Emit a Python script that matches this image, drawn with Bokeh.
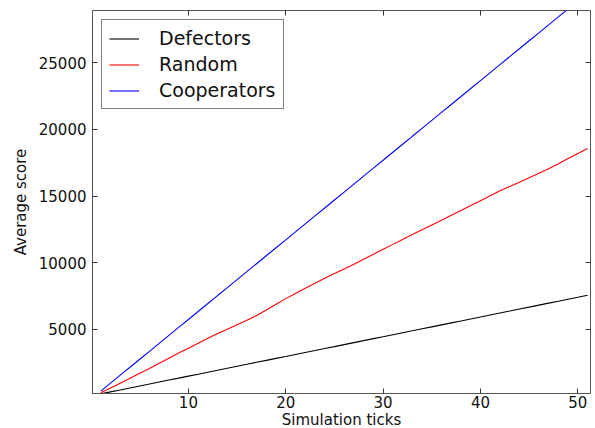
from bokeh.plotting import figure
from bokeh.models import LinearAxis, FixedTicker, Range1d, Legend, LegendItem
from bokeh.embed import file_html
from bokeh.resources import INLINE

ticks = list(range(1, 52))
defectors = [150, 300, 445, 595, 745, 890, 1040, 1190, 1335, 1485,
             1630, 1780, 1925, 2075, 2225, 2370, 2520, 2665, 2815, 2960,
             3110, 3260, 3405, 3555, 3700, 3850, 4000, 4145, 4295, 4440,
             4590, 4740, 4885, 5035, 5180, 5330, 5480, 5625, 5775, 5920,
             6070, 6220, 6365, 6515, 6660, 6810, 6960, 7105, 7255, 7400, 7550]
random_ = [230, 600, 950, 1320, 1700, 2060, 2450, 2830, 3220, 3580,
           3950, 4330, 4680, 5010, 5340, 5670, 6030, 6440, 6880, 7300,
           7690, 8070, 8450, 8820, 9180, 9530, 9880, 10260, 10630, 11000,
           11370, 11740, 12110, 12460, 12820, 13180, 13550, 13910, 14280, 14650,
           15020, 15390, 15720, 16040, 16370, 16710, 17050, 17420, 17810, 18190, 18570]
cooperators = [360, 955, 1555, 2150, 2750, 3345, 3945, 4540, 5140, 5735,
               6335, 6930, 7530, 8125, 8725, 9320, 9920, 10515, 11115, 11710,
               12310, 12905, 13505, 14100, 14700, 15295, 15895, 16490, 17090, 17685,
               18285, 18880, 19480, 20075, 20675, 21270, 21870, 22465, 23065, 23660,
               24260, 24855, 25455, 26050, 26650, 27245, 27845, 28440, 29040, 29635, 30235]

x_ticks = [10, 20, 30, 40, 50]
y_ticks = [5000, 10000, 15000, 20000, 25000]
series_names = ["Defectors", "Random", "Cooperators"]
series_colors = ["black", "red", "blue"]

FONT = "DejaVu Sans"

p = figure(frame_width=498, frame_height=383,
           min_border_left=92, min_border_right=2, min_border_top=10, min_border_bottom=31,
           x_range=Range1d(0.15, 51.3), y_range=Range1d(180, 28920),
           output_backend="svg", toolbar_location=None,
           background_fill_color="white", border_fill_color="white")
p.grid.visible = False
p.outline_line_color = "#555555"
p.outline_line_width = 1

renderers = []
for name, col, ys in zip(series_names, series_colors, [defectors, random_, cooperators]):
    r = p.line(ticks, ys, line_color=col, line_width=1.1)
    renderers.append((name, r))

for ax in [p.xaxis[0], p.yaxis[0]]:
    ax.axis_line_color = "#555555"
    ax.major_tick_in = 5
    ax.major_tick_out = 0
    ax.minor_tick_line_color = None
    ax.major_tick_line_color = "#333333"
    ax.major_label_text_font = FONT
    ax.major_label_text_font_size = "15px"
    ax.major_label_text_color = "#111111"
    ax.axis_label_text_font = FONT
    ax.axis_label_text_font_size = "15px"
    ax.axis_label_text_font_style = "normal"
    ax.axis_label_text_color = "#111111"

p.xaxis[0].ticker = FixedTicker(ticks=x_ticks)
p.yaxis[0].ticker = FixedTicker(ticks=y_ticks)
p.xaxis[0].axis_label = "Simulation ticks"
p.yaxis[0].axis_label = "Average score"
p.xaxis[0].major_label_standoff = 2
p.xaxis[0].axis_label_standoff = 0
p.yaxis[0].major_label_standoff = 6
p.yaxis[0].axis_label_standoff = 6

top = LinearAxis(ticker=FixedTicker(ticks=x_ticks))
right = LinearAxis(ticker=FixedTicker(ticks=y_ticks))
for ax in [top, right]:
    ax.axis_line_color = None
    ax.major_tick_in = 5
    ax.major_tick_out = 0
    ax.minor_tick_line_color = None
    ax.major_tick_line_color = "#333333"
    ax.major_label_text_color = None
    ax.major_label_text_font_size = "1px"
    ax.major_label_standoff = 0
p.add_layout(top, "above")
p.add_layout(right, "right")

legend = Legend(items=[LegendItem(label=n, renderers=[r]) for n, r in renderers],
                location="top_left")
legend.margin = 9
legend.padding = 7
legend.spacing = 4
legend.glyph_width = 30
legend.glyph_height = 21
legend.label_height = 21
legend.label_standoff = 20
legend.label_text_font = FONT
legend.label_text_font_size = "19px"
legend.label_text_color = "#111111"
legend.border_line_color = "black"
legend.border_line_width = 1
legend.background_fill_color = "white"
legend.background_fill_alpha = 1
p.add_layout(legend, "center")

open("out.html", "w").write(file_html(p, INLINE))
